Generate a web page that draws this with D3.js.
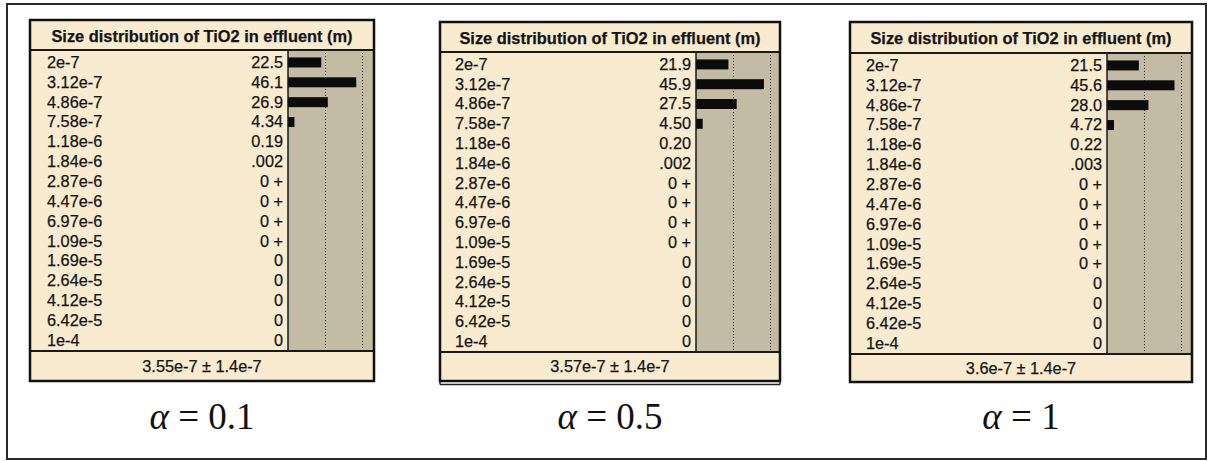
<!DOCTYPE html>
<html>
<head>
<meta charset="utf-8">
<script src="https://cdn.jsdelivr.net/npm/d3@7"></script>
<style>
html,body{margin:0;padding:0;background:#fff;}
svg{display:block;}
</style>
</head>
<body>
<svg id="chart" width="1208" height="461"></svg>
<script>
// ---------- DATA ----------
const sizeBins = ["2e-7","3.12e-7","4.86e-7","7.58e-7","1.18e-6","1.84e-6","2.87e-6","4.47e-6","6.97e-6","1.09e-5","1.69e-5","2.64e-5","4.12e-5","6.42e-5","1e-4"];

const values01 = [22.5, 46.1, 26.9, 4.34, 0.19, 0.002, 0, 0, 0, 0, 0, 0, 0, 0, 0];
const values05 = [21.9, 45.9, 27.5, 4.50, 0.20, 0.002, 0, 0, 0, 0, 0, 0, 0, 0, 0];
const values1  = [21.5, 45.6, 28.0, 4.72, 0.22, 0.003, 0, 0, 0, 0, 0, 0, 0, 0, 0];

const labels01 = ["22.5","46.1","26.9","4.34","0.19",".002","0 +","0 +","0 +","0 +","0","0","0","0","0"];
const labels05 = ["21.9","45.9","27.5","4.50","0.20",".002","0 +","0 +","0 +","0 +","0","0","0","0","0"];
const labels1  = ["21.5","45.6","28.0","4.72","0.22",".003","0 +","0 +","0 +","0 +","0 +","0","0","0","0"];

const footers = ["3.55e-7 \u00b1 1.4e-7", "3.57e-7 \u00b1 1.4e-7", "3.6e-7 \u00b1 1.4e-7"];
const alphas = ["0.1", "0.5", "1"];
const gridTicks = [25, 50];
const chartTitle = "Size distribution of TiO2 in effluent (m)";

// ---------- LAYOUT ----------
const layouts = [
  {x0:30,  x1:374,  y0:20, y1:381, hb:50, fs:351, sep:288,  lx:47,  dbl:false},
  {x0:440, x1:780,  y0:22, y1:381, hb:52, fs:352, sep:696,  lx:455, dbl:true},
  {x0:850, x1:1192, y0:22, y1:382, hb:53, fs:354, sep:1107, lx:866, dbl:false}
];
const seriesVals = [values01, values05, values1];
const seriesLbls = [labels01, labels05, labels1];

const cream = "#f8ebcf";
const tan = "#c4bba4";
const ink = "#151515";
const FONT = "Liberation Sans, Arial, sans-serif";
const FS = 16.3;

const svg = d3.select("#chart");

// outer frame
svg.append("rect").attr("x",7).attr("y",4).attr("width",1199).attr("height",455)
  .attr("fill","#fff").attr("stroke","#2a2a2a").attr("stroke-width",2);

function txt(sel){
  return sel.attr("font-family",FONT).attr("font-size",FS).attr("fill",ink)
    .attr("stroke",ink).attr("stroke-width",0.25);
}

layouts.forEach((L, i) => {
  const g = svg.append("g");
  const vals = seriesVals[i], lbls = seriesLbls[i];

  g.append("rect").attr("x",L.x0).attr("y",L.y0).attr("width",L.x1-L.x0).attr("height",L.y1-L.y0)
    .attr("fill",cream);

  g.append("rect").attr("x",L.sep).attr("y",L.hb).attr("width",L.x1-L.sep).attr("height",L.fs-L.hb)
    .attr("fill",tan);

  const x = d3.scaleLinear().domain([0,50]).range([L.sep, L.sep+74]);
  const y = d3.scaleBand().domain(sizeBins).range([L.hb+2, L.fs-1]);

  g.selectAll("line.grid").data(gridTicks).join("line")
    .attr("x1",d=>x(d)+0.5).attr("x2",d=>x(d)+0.5)
    .attr("y1",L.hb).attr("y2",L.fs)
    .attr("stroke","#333").attr("stroke-width",1).attr("stroke-dasharray","1,2");

  g.selectAll("rect.bar").data(vals).join("rect")
    .attr("x",x(0))
    .attr("y",(d,j)=>y(sizeBins[j]) + y.bandwidth()/2 - 4.5)
    .attr("width",d=> (x(d)-x(0)) >= 1 ? x(d)-x(0) : 0)
    .attr("height",10)
    .attr("fill","#0b0b0b");

  txt(g.selectAll("text.lab").data(sizeBins).join("text")
    .attr("x",L.lx).attr("y",d=>y(d)+y.bandwidth()/2).attr("dy","0.36em")).text(d=>d);

  txt(g.selectAll("text.val").data(lbls).join("text")
    .attr("x",L.sep-5).attr("y",(d,j)=>y(sizeBins[j])+y.bandwidth()/2).attr("dy","0.36em")
    .attr("text-anchor","end")).text(d=>d);

  g.append("line").attr("x1",L.sep).attr("x2",L.sep).attr("y1",L.hb).attr("y2",L.fs)
    .attr("stroke","#1a1a1a").attr("stroke-width",1.5);
  g.append("line").attr("x1",L.x0).attr("x2",L.x1).attr("y1",L.hb).attr("y2",L.hb)
    .attr("stroke","#1a1a1a").attr("stroke-width",2);
  g.append("line").attr("x1",L.x0).attr("x2",L.x1).attr("y1",L.fs).attr("y2",L.fs)
    .attr("stroke","#1a1a1a").attr("stroke-width",2);

  txt(g.append("text").attr("x",(L.x0+L.x1)/2).attr("y",(L.y0+L.hb)/2+1).attr("dy","0.36em")
    .attr("text-anchor","middle")).attr("font-weight","bold").attr("font-size",16.4).text(chartTitle);

  txt(g.append("text").attr("x",(L.x0+L.x1)/2).attr("y",(L.fs+L.y1)/2).attr("dy","0.36em")
    .attr("text-anchor","middle")).text(footers[i]);

  g.append("rect").attr("x",L.x0).attr("y",L.y0).attr("width",L.x1-L.x0).attr("height",L.y1-L.y0)
    .attr("fill","none").attr("stroke","#111").attr("stroke-width",2.5);
  if (L.dbl) {
    g.append("line").attr("x1",L.x0).attr("x2",L.x1).attr("y1",L.y1+3.5).attr("y2",L.y1+3.5)
      .attr("stroke","#222").attr("stroke-width",1.5);
    g.append("line").attr("x1",L.x0).attr("x2",L.x0).attr("y1",L.y1).attr("y2",L.y1+3.5)
      .attr("stroke","#222").attr("stroke-width",1.5);
    g.append("line").attr("x1",L.x1).attr("x2",L.x1).attr("y1",L.y1).attr("y2",L.y1+3.5)
      .attr("stroke","#222").attr("stroke-width",1.5);
  }

  const t = svg.append("text").attr("x",(L.x0+L.x1)/2).attr("y",429)
    .attr("text-anchor","middle").attr("font-family","Liberation Serif, DejaVu Serif, serif")
    .attr("font-size",37).attr("fill","#111");
  t.append("tspan").attr("font-style","italic").text("\u03b1");
  t.append("tspan").text(" = " + alphas[i]);
});
</script>
</body>
</html>
